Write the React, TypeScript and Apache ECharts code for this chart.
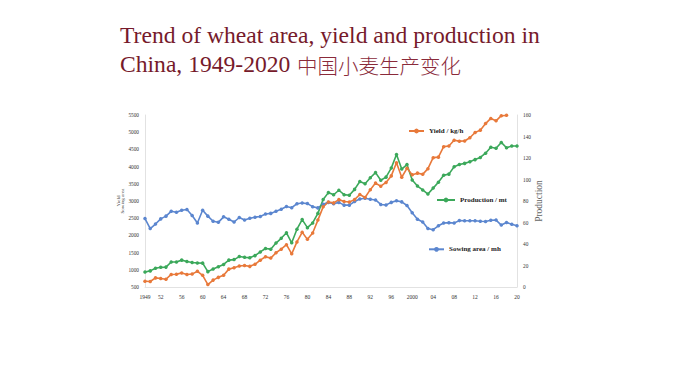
import React, { useEffect, useRef } from "react";
import * as echarts from "echarts";

const years = [
  "1949", "1950", "1951", "1952", "1953", "1954", "1955", "1956", "1957", "1958",
  "1959", "1960", "1961", "1962", "1963", "1964", "1965", "1966", "1967", "1968",
  "1969", "1970", "1971", "1972", "1973", "1974", "1975", "1976", "1977", "1978",
  "1979", "1980", "1981", "1982", "1983", "1984", "1985", "1986", "1987", "1988",
  "1989", "1990", "1991", "1992", "1993", "1994", "1995", "1996", "1997", "1998",
  "1999", "2000", "2001", "2002", "2003", "2004", "2005", "2006", "2007", "2008",
  "2009", "2010", "2011", "2012", "2013", "2014", "2015", "2016", "2017", "2018",
  "2019", "2020",
];

// years that carry a tick label, and the text shown
const tickYears = ["1949", "1952", "1956", "1960", "1964", "1968", "1972", "1976", "1980", "1984",
  "1988", "1992", "1996", "2000", "2004", "2008", "2012", "2016", "2020"];
const tickTexts = ["1949", "52", "56", "60", "64", "68", "72", "76", "80", "84",
  "88", "92", "96", "2000", "04", "08", "12", "16", "20"];

// Yield, kg/ha (left axis)
const yieldKgHa = [
  665, 660, 765, 745, 725, 865, 870, 910, 865, 880,
  955, 840, 570, 700, 780, 840, 1020, 1060, 1110, 1125,
  1100, 1160, 1280, 1380, 1340, 1495, 1600, 1730, 1465, 1810,
  2090, 1885, 2070, 2445, 2830, 2970, 2945, 3040, 2985, 2970,
  3040, 3190, 3100, 3330, 3520, 3430, 3540, 3730, 4110, 3690,
  3950, 3760, 3810, 3775, 3940, 4260, 4275, 4580, 4600, 4765,
  4740, 4745, 4840, 4990, 5060, 5250, 5400, 5330, 5480, 5490,
  null, null,
];

// Production, million tonnes (right axis)
const productionMt = [
  14.0, 15.0, 17.5, 18.3, 18.5, 23.3, 23.3, 25.0, 23.8, 22.8,
  22.4, 22.2, 14.3, 16.8, 18.8, 21.0, 25.0, 25.5, 28.3, 27.6,
  27.3, 29.2, 32.6, 35.8, 35.2, 40.9, 45.3, 50.4, 41.1, 53.8,
  62.7, 55.2, 59.6, 68.5, 81.4, 87.8, 85.8, 90.0, 85.9, 85.4,
  90.8, 98.2, 96.0, 101.6, 106.4, 99.3, 102.2, 110.6, 123.3, 109.7,
  113.9, 99.6, 93.9, 90.3, 86.5, 92.0, 97.4, 104.0, 105.0, 111.8,
  114.0, 115.0, 116.5, 118.5, 120.5, 124.5, 130.0, 129.0, 134.5, 129.5,
  131.2, 131.2,
];

// Sowing area, plotted on the left axis
const sowingArea = [
  2490, 2200, 2330, 2480, 2560, 2700, 2675, 2730, 2755, 2580,
  2360, 2730, 2560, 2410, 2380, 2540, 2470, 2390, 2520, 2450,
  2500, 2530, 2550, 2620, 2640, 2700, 2760, 2840, 2805, 2920,
  2940, 2925, 2835, 2800, 2905, 2960, 2920, 2960, 2880, 2880,
  2985, 3060, 3080, 3050, 3030, 2900, 2885, 2960, 3005, 2975,
  2870, 2660, 2470, 2390, 2200, 2165, 2280, 2360, 2370, 2360,
  2430, 2425, 2425, 2425, 2410, 2405, 2440, 2445, 2300, 2375,
  2325, 2280,
];

const ORANGE = "#E8793A";
const GREEN = "#3BA85A";
const BLUE = "#5B86CF";
const SERIF = '"Liberation Serif", "Times New Roman", serif';

export default function App() {
  const ref = useRef<HTMLDivElement>(null);

  useEffect(() => {
    if (!ref.current) return;
    const chart = echarts.init(ref.current, undefined, { renderer: "svg" });

    const legendCommon = {
      orient: "horizontal",
      padding: 0,
      itemGap: 0,
      itemHeight: 6,
      selectedMode: false,
      textStyle: { fontFamily: SERIF, fontWeight: "bold", fontSize: 7, color: "#222" },
    };

    const lineCommon = {
      type: "line",
      symbol: "circle",
      symbolSize: 3.5,
      showSymbol: true,
      showAllSymbol: true,
      connectNulls: false,
    };

    chart.setOption({
      animation: false,
      backgroundColor: "#ffffff",
      grid: { left: 145, right: 173, top: 115, bottom: 98, containLabel: false },
      graphic: [
        {
          type: "text",
          x: 120,
          y: 35.2,
          style: {
            text: "Trend of wheat area, yield and production in",
            font: `23.6px ${SERIF}`,
            fill: "#761a2b",
            verticalAlign: "middle",
          },
        },
        {
          type: "text",
          x: 120,
          y: 63.5,
          style: {
            text: "China, 1949-2020",
            font: `23.6px ${SERIF}`,
            fill: "#761a2b",
            verticalAlign: "middle",
          },
        },
        {
          type: "text",
          x: 297,
          y: 64.5,
          style: {
            text: "中国小麦生产变化",
            font: '300 20.5px "Noto Sans CJK SC"',
            fill: "#8a2a3a",
            verticalAlign: "middle",
          },
        },
      ],
      legend: [
        { ...legendCommon, data: ["Yield / kg/h"], left: 408, top: 127.5, itemWidth: 15 },
        { ...legendCommon, data: ["Production / mt"], left: 436, top: 196.5, itemWidth: 18 },
        { ...legendCommon, data: ["Sowing area / mh"], left: 428, top: 245.8, itemWidth: 15 },
      ],
      xAxis: {
        type: "category",
        data: years,
        boundaryGap: false,
        axisLine: { show: true, lineStyle: { color: "#e2e2e2", width: 1 } },
        axisTick: { show: false },
        splitLine: { show: false },
        axisLabel: {
          interval: (_i: number, v: string) => tickYears.indexOf(v) >= 0,
          formatter: (v: string) => tickTexts[tickYears.indexOf(v)] ?? "",
          fontFamily: SERIF,
          fontSize: 5.5,
          color: "#333",
          margin: 7,
        },
      },
      yAxis: [
        {
          type: "value",
          min: 500,
          max: 5500,
          interval: 500,
          position: "left",
          axisLine: { show: true, lineStyle: { color: "#e2e2e2", width: 1 } },
          axisTick: { show: false },
          splitLine: { show: false },
          axisLabel: {
            fontFamily: SERIF,
            fontSize: 5.3,
            color: "#333",
            margin: 6,
            formatter: (v: number) => String(v),
          },
          name: "Yield\nSowing area",
          nameLocation: "middle",
          nameRotate: 90,
          nameGap: 20,
          nameMoveOverlap: false,
          nameTextStyle: { fontFamily: SERIF, fontSize: 5, lineHeight: 4.5, color: "#444" },
        },
        {
          type: "value",
          min: 0,
          max: 160,
          interval: 20,
          position: "right",
          axisLine: { show: true, lineStyle: { color: "#e2e2e2", width: 1 } },
          axisTick: { show: false },
          splitLine: { show: false },
          axisLabel: {
            fontFamily: SERIF,
            fontSize: 5.3,
            color: "#333",
            margin: 6,
            formatter: (v: number) => String(v),
          },
          name: "Production",
          nameLocation: "middle",
          nameRotate: 90,
          nameGap: 17,
          nameMoveOverlap: false,
          nameTextStyle: { fontFamily: SERIF, fontSize: 9.5, color: "#666" },
        },
      ],
      series: [
        {
          ...lineCommon,
          name: "Sowing area / mh",
          yAxisIndex: 0,
          data: sowingArea,
          itemStyle: { color: BLUE },
          lineStyle: { color: BLUE, width: 1.6 },
        },
        {
          ...lineCommon,
          name: "Production / mt",
          yAxisIndex: 1,
          data: productionMt,
          itemStyle: { color: GREEN },
          lineStyle: { color: GREEN, width: 1.6 },
        },
        {
          ...lineCommon,
          name: "Yield / kg/h",
          yAxisIndex: 0,
          data: yieldKgHa,
          itemStyle: { color: ORANGE },
          lineStyle: { color: ORANGE, width: 1.6 },
        },
      ],
    });

    return () => chart.dispose();
  }, []);

  return (
    <div
      ref={ref}
      style={{ position: "fixed", left: 0, top: 0, width: 690, height: 385, background: "#fff" }}
    />
  );
}
